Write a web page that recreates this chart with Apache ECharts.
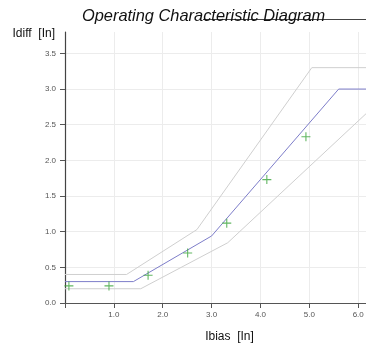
<!DOCTYPE html>
<html>
<head>
<meta charset="utf-8">
<script src="https://cdn.jsdelivr.net/npm/echarts@6/dist/echarts.min.js"></script>
<style>
  html, body { margin: 0; padding: 0; background: #fff; }
  #chart { width: 366px; height: 345px; }
</style>
</head>
<body>
<div id="chart"></div>
<script>
// operating characteristic (Ibias -> Idiff)
const charX = [0, 1.4, 3.0, 5.6, 6.2];
const charY = [0.3, 0.3, 0.94, 3.0, 3.0];
// tolerance band, upper and lower
const upperX = [0, 1.26, 2.7, 5.05, 6.2];
const upperY = [0.4, 0.4, 1.03, 3.3, 3.3];
const lowerX = [0, 1.55, 3.33, 6.2];
const lowerY = [0.2, 0.2, 0.845, 2.68];
// measured test points
const testX = [0.08, 0.9, 1.7, 2.51, 3.31, 4.13, 4.93];
const testY = [0.24, 0.24, 0.39, 0.7, 1.12, 1.73, 2.33];

const zip = (xs, ys) => xs.map((x, i) => [x, ys[i]]);

const chart = echarts.init(document.getElementById('chart'));

const labelStyle = { fontSize: 8, color: '#555', fontFamily: 'Liberation Sans' };

const option = {
  animation: false,
  title: {
    text: 'Operating Characteristic Diagram',
    left: 77,
    top: 3,
    textStyle: {
      fontSize: 16.4,
      fontStyle: 'italic',
      fontWeight: 'normal',
      color: '#111',
      fontFamily: 'Liberation Sans'
    }
  },
  graphic: [
    {
      type: 'line',
      shape: { x1: 203, y1: 19.5, x2: 366, y2: 19.5 },
      style: { stroke: '#444', lineWidth: 1.2 }
    }
  ],
  grid: {
    left: 65,
    right: -2,
    top: 32,
    bottom: 42,
    outerBoundsMode: 'none'
  },
  xAxis: {
    type: 'value',
    min: 0,
    max: 6.2,
    interval: 1,
    name: 'Ibias  [In]',
    nameLocation: 'middle',
    nameGap: 28,
    nameTextStyle: {
      fontSize: 12,
      color: '#111',
      fontFamily: 'Liberation Sans',
      padding: [0, 0, 0, 26]
    },
    axisLine: { show: true, lineStyle: { color: '#555', width: 1 } },
    axisTick: { show: true, length: 5, lineStyle: { color: '#555' } },
    axisLabel: {
      ...labelStyle,
      margin: 8,
      formatter: v => (v === 0 || v % 1 !== 0) ? '' : v.toFixed(1)
    },
    splitLine: { show: true, showMaxLine: false, lineStyle: { color: '#ececec', width: 1 } }
  },
  yAxis: {
    type: 'value',
    min: 0,
    max: 3.8,
    interval: 0.5,
    name: 'Idiff  [In]',
    nameLocation: 'end',
    nameGap: -2,
    nameTextStyle: {
      fontSize: 12,
      color: '#111',
      fontFamily: 'Liberation Sans',
      align: 'right',
      verticalAlign: 'middle',
      padding: [0, 10, 0, 0]
    },
    axisLine: { show: true, lineStyle: { color: '#444', width: 1.2 } },
    axisTick: { show: true, length: 5, lineStyle: { color: '#555' } },
    axisLabel: {
      ...labelStyle,
      margin: 9,
      showMaxLabel: false,
      formatter: v => (Math.round(v * 2) / 2 === v) ? v.toFixed(1) : ''
    },
    splitLine: { show: true, showMaxLine: false, lineStyle: { color: '#ececec', width: 1 } }
  },
  series: [
    {
      name: 'Upper',
      type: 'line',
      data: zip(upperX, upperY),
      showSymbol: false,
      lineStyle: { color: '#cfcfcf', width: 1 },
      silent: true
    },
    {
      name: 'Lower',
      type: 'line',
      data: zip(lowerX, lowerY),
      showSymbol: false,
      lineStyle: { color: '#cfcfcf', width: 1 },
      silent: true
    },
    {
      name: 'Characteristic',
      type: 'line',
      data: zip(charX, charY),
      showSymbol: false,
      lineStyle: { color: '#7d7dc9', width: 1 },
      silent: true
    },
    {
      name: 'Test',
      type: 'scatter',
      data: zip(testX, testY),
      symbol: 'path://M0,4.4h10v1.2h-10z M4.4,0h1.2v10h-1.2z',
      symbolSize: 9,
      itemStyle: { color: '#3aa43a' },
      z: 5
    }
  ]
};

chart.setOption(option);
</script>
</body>
</html>
